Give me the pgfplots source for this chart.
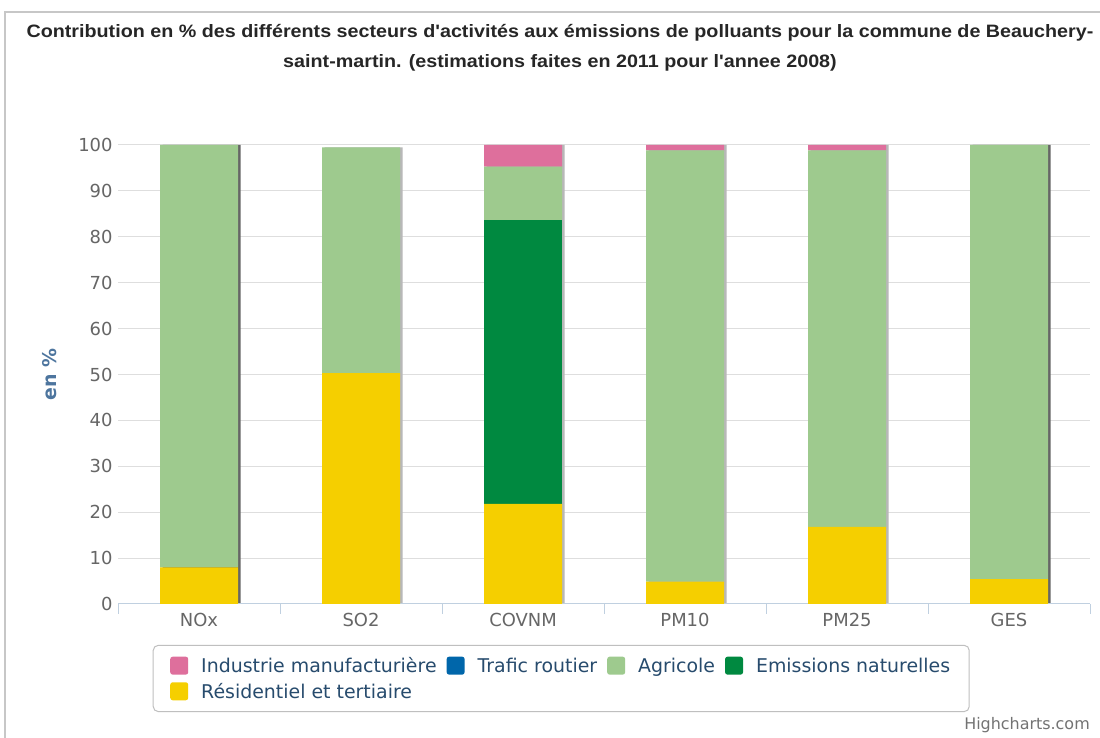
\documentclass[border=0pt]{standalone}
\usepackage{pgfplots}
\pgfplotsset{compat=1.18}
\usepackage{fontspec}
\setmainfont{DejaVu Sans}
\newfontfamily\titlefont{Liberation Sans}
\definecolor{cInd}{HTML}{DE6F9C}
\definecolor{cTraf}{HTML}{0066AA}
\definecolor{cAgri}{HTML}{9ECA8E}
\definecolor{cNat}{HTML}{008940}
\definecolor{cRes}{HTML}{F5CF00}
\definecolor{axisblue}{HTML}{C0D0E0}
\definecolor{labgray}{HTML}{666666}
\definecolor{ylab}{HTML}{4D759E}
\definecolor{legtxt}{HTML}{274B6D}
\pgfplotsset{
  sqleg/.style={legend image code/.code={\fill[##1, draw=none, rounded corners=2.5bp] (0bp,-9bp) rectangle (18bp,9bp);}},
}
\begin{document}
\begin{tikzpicture}[x=1bp,y=1bp]
\useasboundingbox (0,0) rectangle (1100,738);
\fill[white] (0,0) rectangle (1100,738);
\draw[black!22, line width=1.5bp] (5,0) -- (5,726) -- (1100,726);
\node[font=\titlefont\bfseries\fontsize{18}{21}\selectfont, text=black!85] at (560,705) {\scalebox{1.1}[1]{Contribution en \% des différents secteurs d'activités aux émissions de polluants pour la commune de Beauchery-}};
\node[font=\titlefont\bfseries\fontsize{18}{21}\selectfont, text=black!85] at (560,675) {\scalebox{1.1}[1]{saint-martin. (estimations faites en 2011 pour l'annee 2008)}};
\node[font=\fontsize{16}{18}\selectfont, text=black!55] at (1027,13) {Highcharts.com};

% grid + shadows
\begin{axis}[at={(118bp,134bp)}, anchor=south west, scale only axis,
  width=972bp, height=459bp, xmin=-0.5, xmax=5.5, ymin=0, ymax=100,
  ytick={0,10,...,100}, yticklabels={}, xtick=\empty,
  ymajorgrids, grid style={black!13, line width=1bp},
  axis line style={draw=none}, major tick length=0,
  ybar, bar width=78bp, bar shift=2.5bp]
\addplot[fill=black!28, draw=none] coordinates {(1,99.5)(2,100)(3,100)(4,100)};
\addplot[fill=black!60, draw=none] coordinates {(0,100)(5,100)};
\end{axis}

\begin{axis}[at={(118bp,134bp)}, anchor=south west, scale only axis,
  width=972bp, height=459bp, xmin=-0.5, xmax=5.5, ymin=0, ymax=100,
  ybar stacked, bar width=78bp,
  axis x line*=bottom, axis y line*=left,
  y axis line style={draw=none},
  x axis line style={draw=axisblue, line width=1bp},
  ytick={0,10,...,100},
  xtick={0,...,5}, xticklabels={NOx,SO2,COVNM,PM10,PM25,GES},
  minor xtick={-0.5,0.5,...,5.5},
  tick align=outside, major tick length=0, minor tick length=10bp,
  minor tick style={draw=axisblue, line width=1bp},
  /pgf/number format/assume math mode=true,
  ticklabel style={font=\fontsize{18}{21}\selectfont, text=labgray},
  yticklabel style={xshift=-2bp},
  xticklabel style={yshift=-6bp},
  ylabel={en \%},
  ylabel style={at={(axis description cs:-0.07,0.5)}, anchor=center, font=\bfseries\fontsize{19}{22}\selectfont, text=ylab},
  reverse legend,
  legend columns=4,
  legend style={at={(0.456,-0.089)}, anchor=north, draw=black!25, line width=1bp, rounded corners=5bp,
    font=\fontsize{19}{22}\selectfont, text=legtxt, inner xsep=17bp, inner ysep=10bp,
    /tikz/every even column/.append style={column sep=8bp},
    /tikz/every odd column/.append style={column sep=11bp},
    row sep=5bp},
  legend cell align=left,
  sqleg]
\addplot[fill=cRes, draw=none] coordinates {(0,8)(1,50.3)(2,21.8)(3,4.9)(4,16.8)(5,5.4)};
\addlegendentry{Résidentiel et tertiaire}
\addplot[fill=cNat, draw=none] coordinates {(0,0)(1,0)(2,61.9)(3,0)(4,0)(5,0)};
\addlegendentry{Emissions naturelles}
\addplot[fill=cAgri, draw=none] coordinates {(0,92)(1,49.2)(2,11.6)(3,93.9)(4,82)(5,94.6)};
\addlegendentry{Agricole}
\addplot[fill=cTraf, draw=none] coordinates {(0,0)(1,0)(2,0)(3,0)(4,0)(5,0)};
\addlegendentry{Trafic routier}
\addplot[fill=cInd, draw=none] coordinates {(0,0)(1,0)(2,4.7)(3,1.2)(4,1.2)(5,0)};
\addlegendentry{Industrie manufacturière}
\end{axis}
\end{tikzpicture}
\end{document}
